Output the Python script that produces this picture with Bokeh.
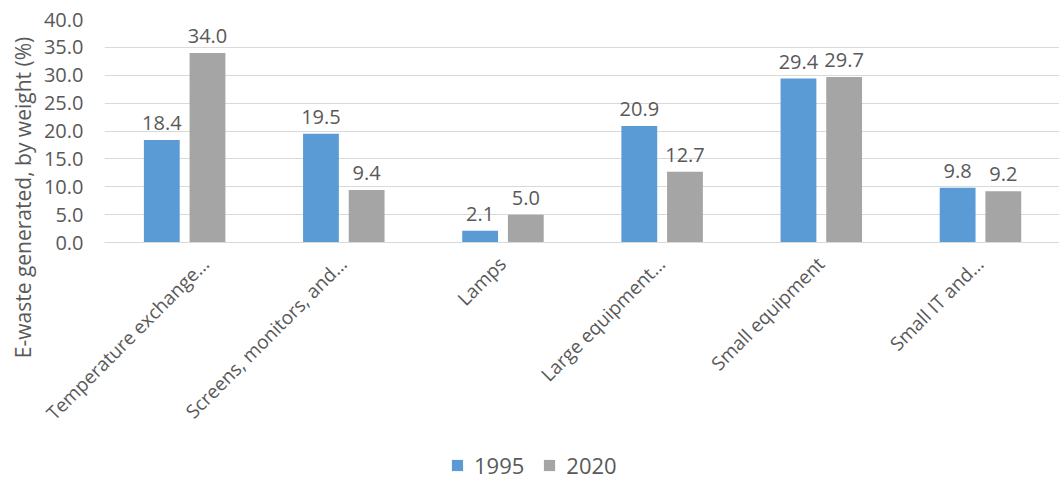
from math import pi
from bokeh.plotting import figure
from bokeh.layouts import row, column
from bokeh.models import (ColumnDataSource, Range1d, FactorRange, Legend, LegendItem,
                          SingleIntervalTicker, NumeralTickFormatter)
from bokeh.transform import dodge
from bokeh.core.properties import value
from bokeh.embed import file_html
from bokeh.resources import INLINE

categories = ["Temperature exchange…", "Screens, monitors, and…", "Lamps",
              "Large equipment…", "Small equipment", "Small IT and…"]
y1995 = [18.4, 19.5, 2.1, 20.9, 29.4, 9.8]
y2020 = [34.0, 9.4, 5.0, 12.7, 29.7, 9.2]
series = ["1995", "2020"]
colors = ["#5B9BD5", "#A5A5A5"]
y_label = "E-waste generated, by weight (%)"

FONT = "Open Sans"
TXT = "#595959"

src = ColumnDataSource(dict(
    cat=categories, v1995=y1995, v2020=y2020,
    l1995=[f"{v:.1f}" for v in y1995], l2020=[f"{v:.1f}" for v in y2020],
))

# ---- main chart ----
main = figure(width=1019, height=440, x_range=FactorRange(*categories, range_padding=0),
              y_range=Range1d(0, 40), output_backend="svg", toolbar_location=None,
              min_border_left=64, min_border_right=0, min_border_top=19, min_border_bottom=198)
main.outline_line_color = None
main.border_fill_color = "white"

offs = [-0.14, 0.147]
for key, col, off in zip(series, colors, offs):
    main.vbar(x=dodge("cat", off, range=main.x_range), top="v" + key, width=0.225,
              source=src, fill_color=col, line_color=None)
    main.text(x=dodge("cat", off, range=main.x_range), y="v" + key, text="l" + key, source=src,
              text_font=value(FONT), text_font_size="20px", text_color=TXT,
              text_align="center", text_baseline="alphabetic", y_offset=-17)

main.yaxis.ticker = SingleIntervalTicker(interval=5)
main.yaxis.formatter = NumeralTickFormatter(format="0.0")
main.yaxis.axis_line_color = None
main.yaxis.major_tick_line_color = None
main.yaxis.minor_tick_line_color = None
main.yaxis.major_tick_out = 0
main.yaxis.major_tick_in = 0
main.yaxis.minor_tick_out = 0
main.yaxis.major_label_standoff = 21
main.yaxis.major_label_text_font = FONT
main.yaxis.major_label_text_font_size = "20px"
main.yaxis.major_label_text_color = TXT

main.xaxis.axis_line_color = "#D9D9D9"
main.xaxis.major_tick_line_color = None
main.xaxis.minor_tick_line_color = None
main.xaxis.major_label_orientation = pi / 4
main.xaxis.major_label_standoff = 12
main.xaxis.major_label_text_font = FONT
main.xaxis.major_label_text_font_size = "19px"
main.xaxis.major_label_text_color = TXT

main.xgrid.grid_line_color = None
main.ygrid.grid_line_color = "#D9D9D9"
main.ygrid.grid_line_width = 1

# ---- y-axis title strip ----
lab = figure(width=40, height=480, x_range=Range1d(0, 40), y_range=Range1d(0, 480),
             output_backend="svg", toolbar_location=None, x_axis_type=None, y_axis_type=None,
             min_border=0)
lab.outline_line_color = None
lab.grid.grid_line_color = None
lab.text(x=[22], y=[283], text=[y_label], angle=pi / 2, text_align="center",
         text_baseline="middle", text_font=value(FONT), text_font_size="21px", text_color=TXT)

# ---- legend strip ----
leg = figure(width=1019, height=40, x_range=Range1d(0, 1), y_range=Range1d(0, 1),
             output_backend="svg", toolbar_location=None, x_axis_type=None, y_axis_type=None,
             min_border=0)
leg.outline_line_color = None
leg.grid.grid_line_color = None
# one off-screen point per series so the legend has a glyph to draw from
proxy = ColumnDataSource(dict(x=[-5.0], top=[0.0]))
leg_r = [leg.vbar(x="x", top="top", width=0.1, source=proxy, fill_color=c, line_color=None)
         for c in colors]
legend = Legend(items=[LegendItem(label=s, renderers=[r]) for s, r in zip(series, leg_r)],
                orientation="horizontal", location=(346, 0),
                glyph_width=14, glyph_height=14, label_standoff=10, spacing=18,
                padding=0, margin=0, border_line_color=None, background_fill_alpha=0,
                label_text_font=FONT, label_text_font_size="22px", label_text_color=TXT)
leg.add_layout(legend, "center")

p = row(lab, column(main, leg, spacing=0), spacing=0)

open("out.html", "w").write(file_html(p, INLINE))
